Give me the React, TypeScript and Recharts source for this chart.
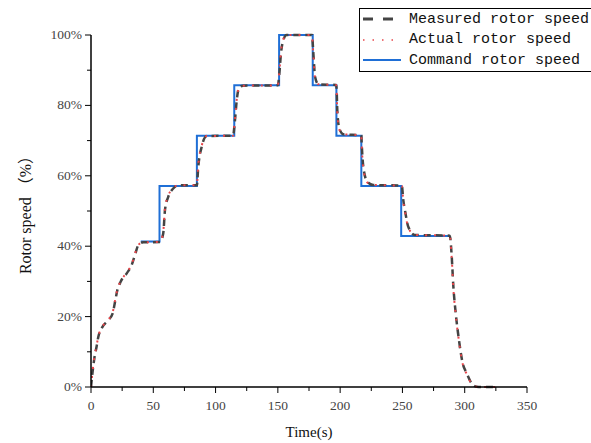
import { LineChart, Line, XAxis, YAxis, Label } from "recharts";

// time (s) and speed (%)
const measuredTime = [0, 1.3, 2.7, 4.5, 5.9, 8.6, 13.9, 17.4, 19.3, 21.1, 23.8, 28.7, 32.7, 35.3, 38, 42, 55.4, 58, 59.4, 62, 66, 70, 85, 86, 88.9, 92.9, 114, 115.6, 117, 119, 122, 150, 151.2, 152.5, 154.4, 157, 177.5, 178, 179, 179.8, 182.5, 196.8, 197.2, 197.7, 199.3, 202.5, 217, 217.3, 218.6, 221.8, 226.6, 249.5, 250.7, 252, 254.7, 260, 288, 289.5, 290.9, 292.8, 295.4, 298.4, 301.6, 305.6, 309.6, 318, 325.7];
const measuredSpeed = [0, 4.4, 8.2, 11.5, 14.3, 16.7, 19, 20.9, 24.2, 27.4, 29.9, 32.3, 34.7, 37.5, 40.3, 41.1, 41.2, 43.7, 50.3, 54, 56.4, 57.3, 57.3, 62.1, 68.3, 71.3, 71.4, 75.9, 81.5, 85.1, 85.6, 85.7, 89.1, 94.8, 98.6, 100, 100, 97.6, 92, 88.2, 86, 85.8, 84.4, 78.7, 73.5, 71.8, 71.5, 69.2, 62.6, 58.3, 57.4, 57.2, 53.1, 50.3, 45.5, 43.2, 43, 37.5, 28.5, 20.9, 13.3, 6.7, 3.9, 1, 0.1, 0, 0];
const actualSpeed = [0, 4.6, 8.4, 11.7, 14.4, 16.8, 19.1, 21.2, 24.6, 27.6, 30.1, 32.5, 34.9, 37.8, 40.4, 41.1, 41.2, 44.2, 50.8, 54.3, 56.6, 57.3, 57.3, 62.6, 68.6, 71.3, 71.4, 76.3, 81.8, 85.2, 85.6, 85.7, 89.6, 95.2, 98.8, 100, 100, 97.2, 91.6, 88, 86, 85.8, 84, 78.2, 73.2, 71.8, 71.5, 68.8, 62.2, 58.1, 57.4, 57.2, 52.7, 50, 45.3, 43.2, 43, 37, 28, 20.5, 13, 6.5, 3.7, 0.9, 0.1, 0, 0];

const commandTime = [40, 55, 85, 115, 151, 178, 197, 217, 249, 288];
const commandSpeed = [41.3, 57.1, 71.4, 85.7, 100, 85.7, 71.4, 57.1, 42.9, 42.9];

const xTicks = [0, 25, 50, 75, 100, 125, 150, 175, 200, 225, 250, 275, 300, 325, 350];
const yTicks = [0, 10, 20, 30, 40, 50, 60, 70, 80, 90, 100];

const seriesNames = ["Measured rotor speed", "Actual rotor speed", "Command rotor speed"];

const measuredData = measuredTime.map((t, i) => ({ t, v: measuredSpeed[i] }));
const actualData = measuredTime.map((t, i) => ({ t, v: actualSpeed[i] }));
const commandData = commandTime.map((t, i) => ({ t, v: commandSpeed[i] }));

const tickFont = { fontFamily: "'Liberation Serif', serif", fontSize: 13.5, fill: "#444" };

function XTick(props: any) {
  const { x, y, payload } = props;
  const major = payload.value % 50 === 0;
  return (
    <g>
      <line x1={x} x2={x} y1={y - 8} y2={y - 8 + (major ? 6 : 4)} stroke="#000" strokeWidth={1} />
      {major && (
        <text x={x} y={y + 15} textAnchor="middle" {...tickFont}>
          {payload.value}
        </text>
      )}
    </g>
  );
}

function YTick(props: any) {
  const { x, y, payload } = props;
  const major = payload.value % 20 === 0;
  return (
    <g>
      <line x1={x + 8} x2={x + 8 - (major ? 6 : 4)} y1={y} y2={y} stroke="#000" strokeWidth={1} />
      {major && (
        <text x={x - 1} y={y + 4} textAnchor="end" {...tickFont}>
          {payload.value + "%"}
        </text>
      )}
    </g>
  );
}

function LegendBox() {
  const samples = [
    { stroke: "#444", dash: "10 10", width: 3 },
    { stroke: "#e8454a", dash: "1.5 8", width: 1.5 },
    { stroke: "#1f6fd6", dash: undefined, width: 2 },
  ];
  return (
    <div
      style={{
        position: "absolute",
        left: 359,
        top: 8,
        border: "1px solid #000",
        background: "#fff",
        width: 240,
        height: 62,
        fontFamily: "'Liberation Mono', monospace",
        fontSize: 15,
        color: "#111",
      }}
    >
      {seriesNames.map((name, i) => (
        <div key={name} style={{ display: "flex", alignItems: "center", height: 20.5 }}>
          <svg width={40} height={10} style={{ marginLeft: 3, marginRight: 6 }}>
            <line x1={0} x2={38} y1={5} y2={5} stroke={samples[i].stroke} strokeWidth={samples[i].width} strokeDasharray={samples[i].dash} />
          </svg>
          <span style={{ whiteSpace: "nowrap" }}>{name}</span>
        </div>
      ))}
    </div>
  );
}

export default function App() {
  return (
    <div style={{ position: "absolute", left: 0, top: 0, width: 591, height: 443, background: "#fff", overflow: "hidden" }}>
      <LineChart width={591} height={443} margin={{ top: 35, right: 64, bottom: 0, left: 31 }}>
        <XAxis
          dataKey="t"
          type="number"
          domain={[0, 350]}
          ticks={xTicks}
          tick={<XTick />}
          tickLine={false}
          axisLine={{ stroke: "#000", strokeWidth: 1.5 }}
          height={56}
          allowDataOverflow
        >
          <Label value="Time(s)" position="insideBottom" offset={6} style={{ fontFamily: "'Liberation Serif', serif", fontSize: 15, fill: "#111" }} />
        </XAxis>
        <YAxis
          dataKey="v"
          type="number"
          domain={[0, 100]}
          ticks={yTicks}
          tick={<YTick />}
          tickLine={false}
          axisLine={{ stroke: "#000", strokeWidth: 1.5 }}
          width={60}
        >
          <Label value="Rotor speed （%）" angle={-90} position="insideLeft" offset={-6} style={{ textAnchor: "middle", fontFamily: "'Liberation Serif', 'Noto Sans CJK SC', serif", fontSize: 16, fill: "#111" }} />
        </YAxis>
        <Line data={commandData} dataKey="v" type="stepAfter" stroke="#1f6fd6" strokeWidth={2} dot={false} isAnimationActive={false} name={seriesNames[2]} />
        <Line data={measuredData} dataKey="v" type="monotone" stroke="#444" strokeWidth={2.5} strokeDasharray="7 5" dot={false} isAnimationActive={false} name={seriesNames[0]} />
        <Line data={actualData} dataKey="v" type="monotone" stroke="#e8454a" strokeWidth={2} strokeDasharray="2 7" dot={false} isAnimationActive={false} name={seriesNames[1]} />
      </LineChart>
      <LegendBox />
    </div>
  );
}
